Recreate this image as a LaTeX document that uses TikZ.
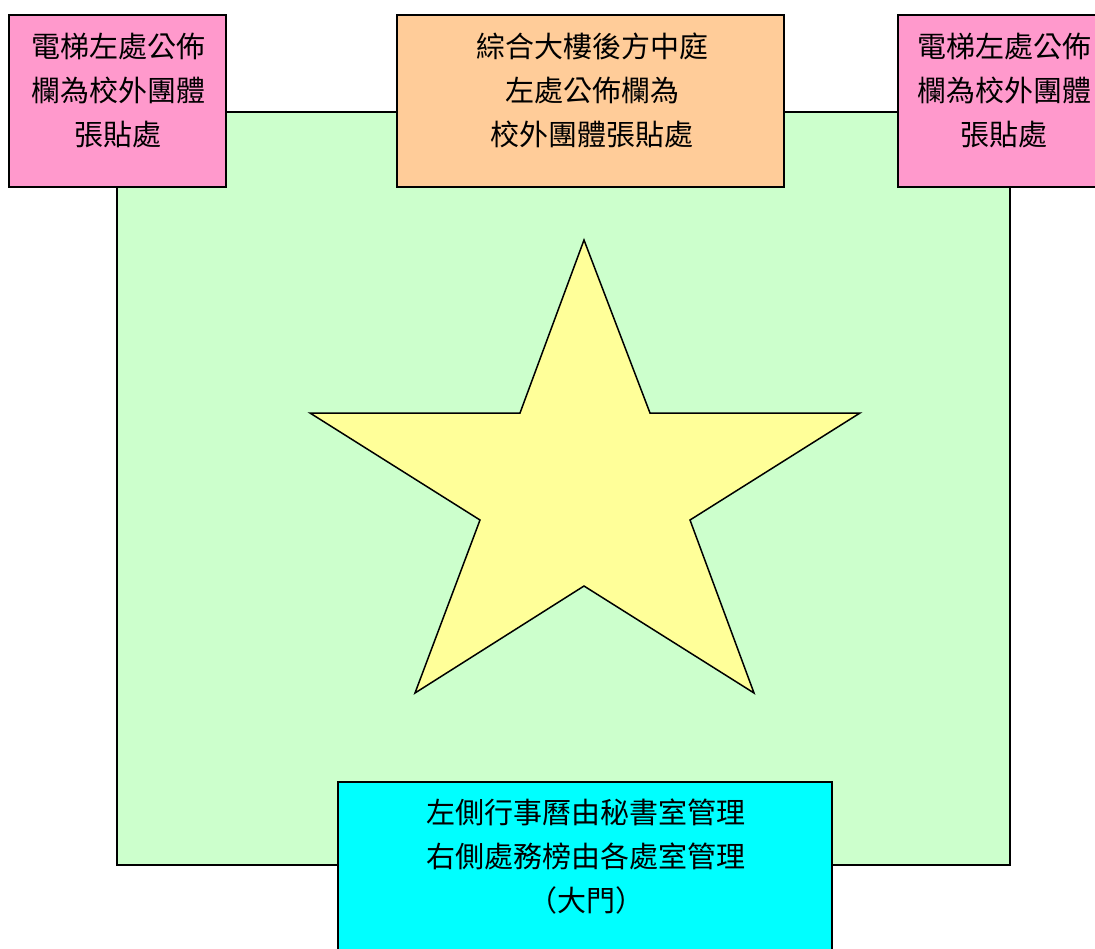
\documentclass[tikz,border=0pt]{standalone}
\usepackage{fontspec}
\newfontfamily\cjk{Noto Sans CJK TC}
\definecolor{pinkbox}{HTML}{FF99CC}
\definecolor{orangebox}{HTML}{FFCC99}
\definecolor{greenbg}{HTML}{CCFFCC}
\definecolor{cyanbox}{HTML}{00FFFF}
\definecolor{staryellow}{HTML}{FFFF99}
\begin{document}
\begin{tikzpicture}[x=1pt,y=-1pt,
  box/.style={draw=black,line width=1.5pt},
  label/.style={font=\cjk\fontsize{29}{44}\selectfont,align=center,inner sep=0pt,text=black}]
\clip (0,0) rectangle (1095,948);
\fill[white] (0,0) rectangle (1095,948);
% green area
\filldraw[box,fill=greenbg] (117,112) rectangle (1010,865);
% star
\coordinate (s1) at (584,240);
\coordinate (s2) at (650,413);
\coordinate (s3) at (860,413);
\coordinate (s4) at (690,520);
\coordinate (s5) at (754,693);
\coordinate (s6) at (584,586);
\coordinate (s7) at (415,693);
\coordinate (s8) at (480,520);
\coordinate (s9) at (310,413);
\coordinate (s10) at (520,413);
\filldraw[fill=staryellow,draw=black,line width=1.5pt,line join=miter]
  (s1) -- (s2) -- (s3) -- (s4) -- (s5) -- (s6) -- (s7) -- (s8) -- (s9) -- (s10) -- cycle;
% boxes
\filldraw[box,fill=pinkbox] (9,15) rectangle (226,187);
\filldraw[box,fill=orangebox] (397,15) rectangle (784,187);
\filldraw[box,fill=pinkbox] (898,15) rectangle (1112,187);
\filldraw[box,fill=cyanbox] (338,782) rectangle (832,960);
% texts
\node[label] (lefttext) at (118,90) {電梯左處公佈\\欄為校外團體\\張貼處};
\node[label] (midtext) at (592,90) {綜合大樓後方中庭\\左處公佈欄為\\校外團體張貼處};
\node[label] (righttext) at (1004,90) {電梯左處公佈\\欄為校外團體\\張貼處};
\node[label] (doortext) at (586,857) {左側行事曆由秘書室管理\\右側處務榜由各處室管理\\（大門）};
\end{tikzpicture}
\end{document}
